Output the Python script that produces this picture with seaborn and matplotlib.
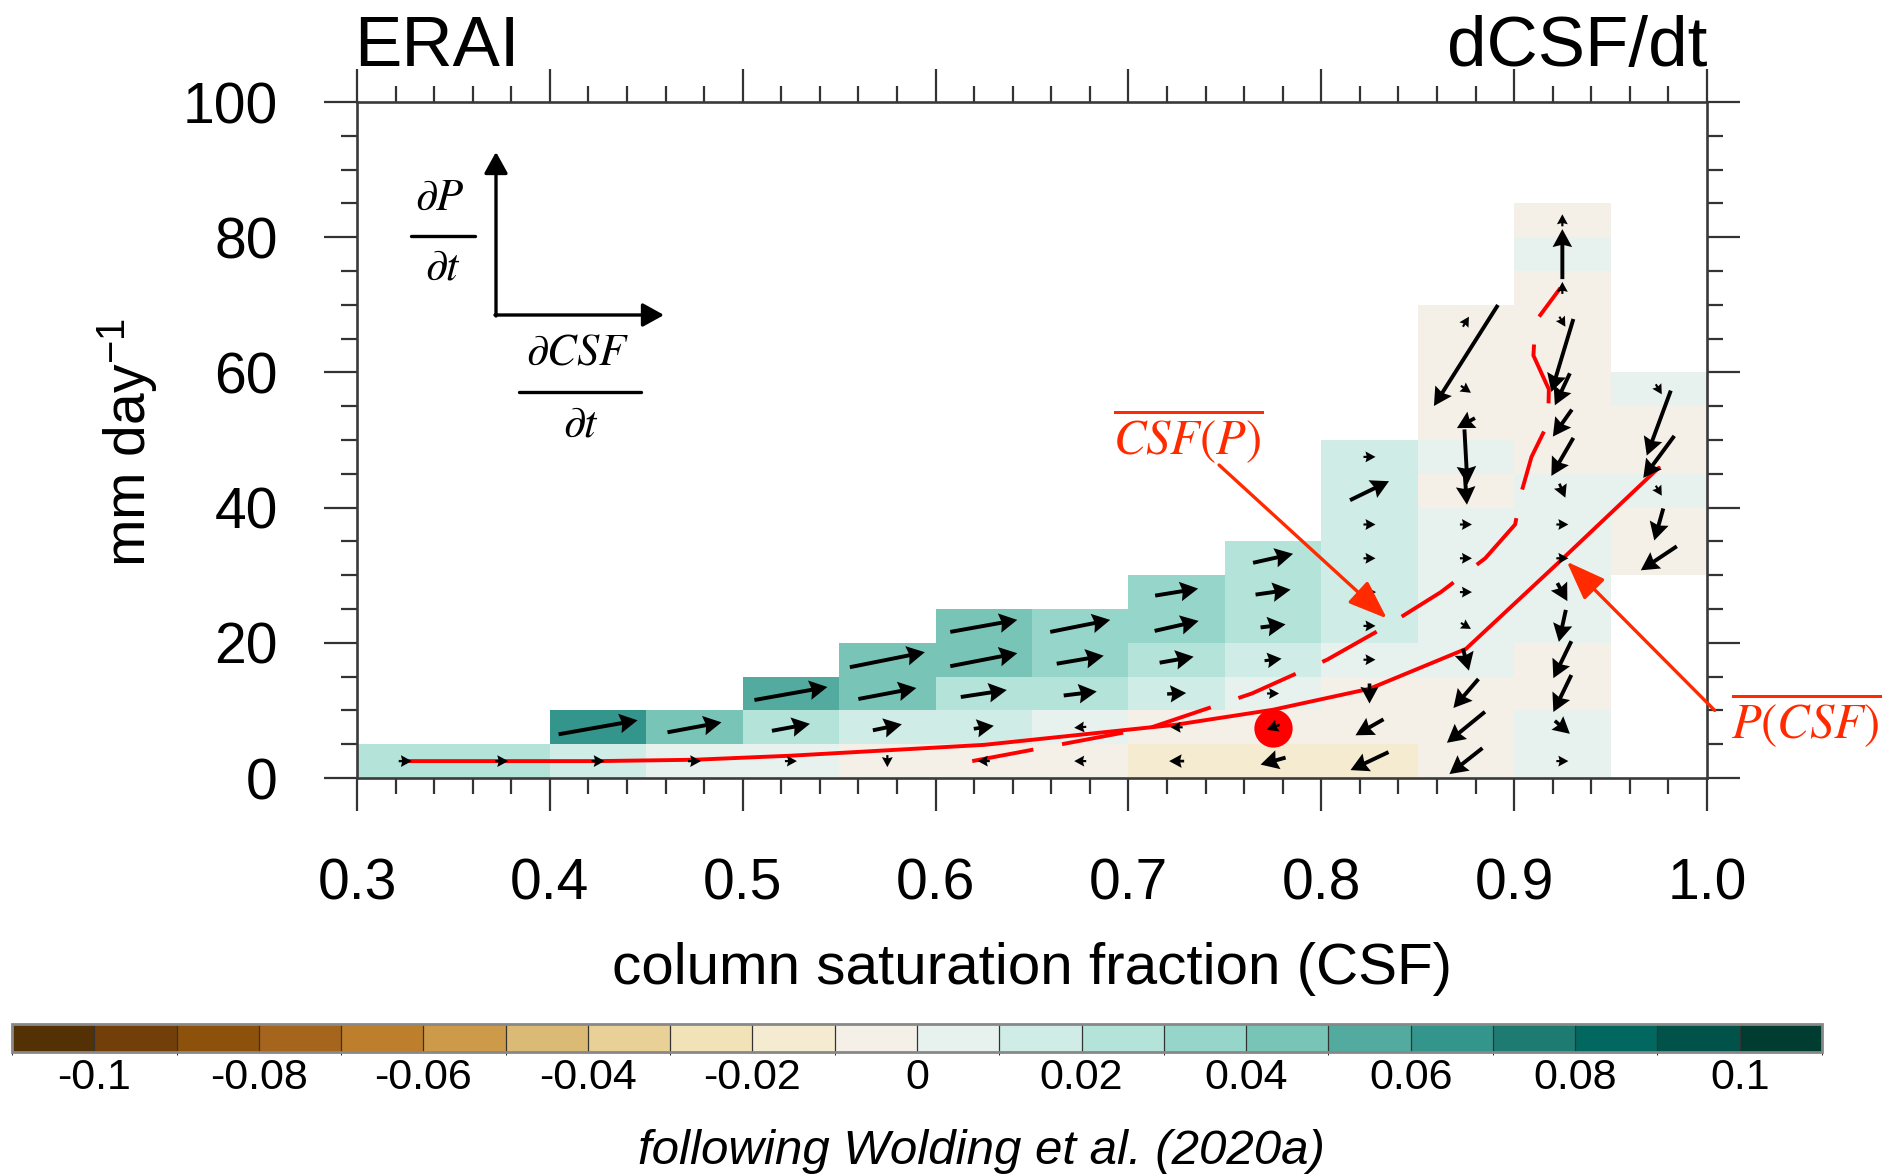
import numpy as np
import matplotlib
matplotlib.use("Agg")
import matplotlib.pyplot as plt
from matplotlib.colors import ListedColormap, BoundaryNorm
from matplotlib.lines import Line2D
import seaborn as sns

# ---------------- binned composite: CSF bins (0.05) x precipitation bins (5 mm/day)
csf_edges = np.linspace(0.30, 1.00, 15)
p_edges = np.linspace(0.0, 85.0, 18)
csf_mid = 0.5 * (csf_edges[:-1] + csf_edges[1:])
p_mid = 0.5 * (p_edges[:-1] + p_edges[1:])

# index of the lowest occupied precipitation bin in each CSF bin
first_p_bin = [0, 0, 0, 0, 0, 0, 0, 0, 0, 0, 0, 0, 0, 6]

# mean dCSF/dt of each occupied bin, one list per CSF bin, lowest P bin first
dcsf_dt = [
    [0.025],                                                        # 0.30-0.35
    [0.025],                                                        # 0.35-0.40
    [0.015, 0.065],                                                 # 0.40-0.45
    [0.005, 0.045],                                                 # 0.45-0.50
    [0.005, 0.025, 0.055],                                          # 0.50-0.55
    [-0.005, 0.015, 0.045, 0.045],                                  # 0.55-0.60
    [-0.005, 0.015, 0.025, 0.045, 0.045],                           # 0.60-0.65
    [-0.005, 0.005, 0.025, 0.035, 0.035],                           # 0.65-0.70
    [-0.015, -0.005, 0.015, 0.025, 0.035, 0.035],                   # 0.70-0.75
    [-0.015, -0.005, 0.005, 0.015, 0.025, 0.025, 0.025],            # 0.75-0.80
    [-0.015, -0.005, -0.005, 0.005, 0.015, 0.015, 0.015, 0.015,
     0.015, 0.015],                                                 # 0.80-0.85
    [-0.005, -0.005, -0.005, 0.005, 0.005, 0.005, 0.005, 0.005,
     -0.005, 0.005, -0.005, -0.005, -0.005, -0.005],                # 0.85-0.90
    [0.005, 0.005, -0.005, -0.005, 0.005, 0.005, 0.005, 0.005,
     0.005, -0.005, -0.005, -0.005, -0.005, -0.005, -0.005, 0.005,
     -0.005],                                                       # 0.90-0.95
    [-0.005, -0.005, 0.005, -0.005, -0.005, 0.005],                 # 0.95-1.00
]

# phase-space tendency vectors, same layout: CSF component
vec_dcsf = [
    [0.13],
    [0.13],
    [0.13, 0.79],
    [0.13, 0.54],
    [0.12, 0.38, 0.73],
    [0.0, 0.29, 0.58, 0.75],
    [-0.12, 0.20, 0.46, 0.67, 0.67],
    [-0.12, -0.12, 0.33, 0.47, 0.60],
    [-0.15, -0.12, 0.19, 0.34, 0.44, 0.43],
    [-0.25, -0.13, 0.12, 0.17, 0.25, 0.35, 0.40],
    [-0.38, -0.28, 0.0, 0.12, 0.12, 0.13, 0.12, 0.12, 0.39, 0.12],
    [-0.33, -0.38, -0.25, 0.06, 0.10, 0.12, 0.12, 0.12, 0.02, 0.03,
     -0.18, 0.10, -0.64, 0.06],
    [0.12, 0.15, -0.18, -0.18, -0.07, 0.10, 0.12, 0.12, 0.06, -0.22,
     -0.19, -0.15, -0.22, 0.06, 0.0, 0.0, 0.0],
    [-0.36, -0.09, 0.06, -0.31, -0.24, 0.06],
]

# phase-space tendency vectors, same layout: precipitation component
vec_dp = [
    [0.0],
    [0.0],
    [0.0, 0.14],
    [0.0, 0.10],
    [0.0, 0.07, 0.13],
    [-0.12, 0.06, 0.11, 0.15],
    [0.0, 0.03, 0.07, 0.13, 0.12],
    [0.0, -0.01, 0.04, 0.08, 0.12],
    [0.0, 0.0, 0.01, 0.06, 0.10, 0.07],
    [-0.07, -0.05, 0.0, 0.02, 0.03, 0.05, 0.09],
    [-0.18, -0.16, -0.20, 0.0, 0.0, 0.0, 0.0, 0.0, 0.19, 0.0],
    [-0.26, -0.31, -0.29, -0.22, -0.06, 0.0, 0.0, 0.0, -0.28, -0.55,
     -0.10, -0.07, -1.01, 0.10],
    [0.0, -0.13, -0.37, -0.37, -0.32, -0.18, 0.0, 0.0, -0.14, -0.38,
     -0.27, -0.32, -0.73, -0.10, 0.12, 0.50, 0.12],
    [-0.24, -0.32, -0.10, -0.42, -0.65, -0.10],
]

# conditional means
p_given_csf = [2.5, 2.5, 2.5, 2.7, 3.3, 4.1, 4.9, 6.4, 7.9, 10.1, 13.2, 19.1, 32.4, 45.9]
csf_given_p = [0.619, 0.712, 0.764, 0.803, 0.834, 0.862, 0.885, 0.9005,
               0.904, 0.909, 0.9176, 0.918, 0.910, 0.911, 0.924]
p_for_csf_given_p = p_mid[:len(csf_given_p)]

# climatological mean state
mean_csf, mean_p = 0.775, 7.4

# colour levels / ticks
level_bounds = np.linspace(-0.11, 0.11, 23)
cbar_ticks = [-0.1, -0.08, -0.06, -0.04, -0.02, 0.0, 0.02, 0.04, 0.06, 0.08, 0.1]
cbar_labels = ["-0.1", "-0.08", "-0.06", "-0.04", "-0.02", "0",
               "0.02", "0.04", "0.06", "0.08", "0.1"]
x_ticks = [0.3, 0.4, 0.5, 0.6, 0.7, 0.8, 0.9, 1.0]
x_labels = ["0.3", "0.4", "0.5", "0.6", "0.7", "0.8", "0.9", "1.0"]
y_ticks = [0, 20, 40, 60, 80, 100]

brbg = ["#543005", "#723f08", "#8c510a", "#a6651c", "#bd7f2c", "#cc9a49",
        "#dbba75", "#e8d096", "#f1e2b7", "#f5ebd0", "#f4f0e8", "#e7f2ef",
        "#d0ece6", "#b4e3da", "#96d6ca", "#78c5b8", "#53aa9e", "#34958c",
        "#1d7b72", "#02675e", "#015349", "#003c30"]

# ---------------- style
sns.set_style("ticks")
plt.rcParams["font.family"] = ["Liberation Sans", "DejaVu Sans"]
plt.rcParams["mathtext.fontset"] = "stix"
plt.rcParams["text.color"] = "black"
plt.rcParams["axes.labelcolor"] = "black"
plt.rcParams["xtick.color"] = "black"
plt.rcParams["ytick.color"] = "black"

W, H = 1900, 1175


def fx(x):
    return x / W


def fy(y):
    return 1 - y / H


fig = plt.figure(figsize=(19, 11.75), dpi=100)
ax = fig.add_axes([fx(357), fy(778), fx(1707) - fx(357), fy(102) - fy(778)])

# ---------------- shaded bins
grid = np.full((len(p_mid), len(csf_mid)), np.nan)
X, Y, U, V = [], [], [], []
for k in range(len(csf_mid)):
    for j, val in enumerate(dcsf_dt[k]):
        row = first_p_bin[k] + j
        grid[row, k] = val
        X.append(csf_mid[k])
        Y.append(p_mid[row])
        U.append(vec_dcsf[k][j])
        V.append(vec_dp[k][j])

cmap = ListedColormap(brbg)
norm = BoundaryNorm(level_bounds, cmap.N)
mesh = ax.pcolormesh(csf_edges, p_edges, np.ma.masked_invalid(grid),
                     cmap=cmap, norm=norm, shading="flat", zorder=1,
                     edgecolors="none")

# ---------------- conditional-mean curves and mean state
sns.lineplot(x=list(csf_mid), y=p_given_csf, ax=ax, color="red", lw=2.8,
             sort=False, estimator=None, zorder=3)
sns.lineplot(x=csf_given_p, y=list(p_for_csf_given_p), ax=ax, color="red",
             lw=2.8, sort=False, estimator=None, linestyle=(0, (16, 7.5)),
             zorder=3)
sns.scatterplot(x=[mean_csf], y=[mean_p], ax=ax, s=760, color="red",
                linewidth=0, zorder=4)

# ---------------- tendency vectors
ax.quiver(X, Y, U, V, angles="uv", scale_units="inches", scale=1.0,
          pivot="middle", width=0.0029, headwidth=5.0, headlength=4.6,
          headaxislength=4.1, minshaft=1.2, minlength=0.5, color="black",
          zorder=5)

# ---------------- axes
ax.set_xlim(0.3, 1.0)
ax.set_ylim(0, 100)
ax.set_xticks(x_ticks)
ax.set_xticklabels(x_labels)
ax.set_yticks(y_ticks)
ax.set_xticks(np.arange(0.30, 1.001, 0.02), minor=True)
ax.set_yticks(np.arange(0, 101, 5), minor=True)
ax.tick_params(which="both", direction="out", top=True, right=True,
               color="#333333", width=1.6, labelcolor="black")
ax.tick_params(which="major", length=24, labelsize=41, pad=33)
ax.tick_params(which="minor", length=11.5)
for s in ax.spines.values():
    s.set_linewidth(1.9)
    s.set_color("#3a3a3a")
ax.set_xlabel("")
ax.set_ylabel("")

fig.text(fx(127), fy(442), "mm day$^{\\mathregular{-1}}$", rotation=90,
         ha="center", va="center", fontsize=41)
fig.text(fx(1032), fy(984), "column saturation fraction (CSF)",
         ha="center", va="baseline", fontsize=42)
fig.text(fx(354), fy(66), "ERAI", ha="left", va="baseline", fontsize=51)
fig.text(fx(1707), fy(66), "dCSF/dt", ha="right", va="baseline", fontsize=51)

# ---------------- vector key
key_kw = dict(arrowstyle="-|>,head_length=0.65,head_width=0.36", color="black",
              lw=2.4, shrinkA=0, shrinkB=0, mutation_scale=20)
ax.annotate("", xy=(496, H - 152), xytext=(496, H - 316),
            xycoords="figure pixels", textcoords="figure pixels",
            arrowprops=key_kw, annotation_clip=False)
ax.annotate("", xy=(664, H - 315), xytext=(495, H - 315),
            xycoords="figure pixels", textcoords="figure pixels",
            arrowprops=key_kw, annotation_clip=False)
fig.text(fx(440), fy(198), r"$\partial P$", ha="center", va="center", fontsize=32)
fig.text(fx(443), fy(268), r"$\partial t$", ha="center", va="center", fontsize=32)
fig.add_artist(Line2D([fx(411), fx(475)], [fy(236), fy(236)], lw=2.4,
                      color="black", transform=fig.transFigure))
fig.text(fx(578), fy(353), r"$\partial CSF$", ha="center", va="center", fontsize=32)
fig.text(fx(581), fy(425), r"$\partial t$", ha="center", va="center", fontsize=32)
fig.add_artist(Line2D([fx(519), fx(641)], [fy(392), fy(392)], lw=2.4,
                      color="black", transform=fig.transFigure))

# ---------------- curve labels
lab_col = "#ff2a00"
lab_kw = dict(arrowstyle="-|>,head_length=1.2,head_width=0.45", color=lab_col,
              lw=2.4, shrinkA=0, shrinkB=0, mutation_scale=20)
ax.annotate("", xy=(0.834, 23.6), xytext=(0.747, 46.3), arrowprops=lab_kw,
            annotation_clip=False, zorder=6)
ax.annotate("", xy=(0.9273, 32.0), xytext=(1.004, 10.0), arrowprops=lab_kw,
            annotation_clip=False, zorder=6)
fig.text(fx(1188), fy(436), r"$\overline{CSF(P)}$", color=lab_col,
         ha="center", va="center", fontsize=35)
fig.text(fx(1806), fy(720), r"$\overline{P(CSF)}$", color=lab_col,
         ha="center", va="center", fontsize=35)

# ---------------- colour bar
cax = fig.add_axes([fx(12), fy(1052), fx(1822) - fx(12), fy(1024) - fy(1052)])
cb = fig.colorbar(mesh, cax=cax, orientation="horizontal", ticks=cbar_ticks,
                  drawedges=True)
cb.set_ticklabels(cbar_labels)
cb.ax.tick_params(length=0, pad=4, labelsize=31, labelcolor="black")
cb.outline.set_edgecolor("#888888")
cb.outline.set_linewidth(2.0)
cb.dividers.set_color("#333333")
cb.dividers.set_linewidth(0.9)

fig.text(fx(981), fy(1164), "following Wolding et al. (2020a)", ha="center",
         va="baseline", fontsize=35.5, style="italic")

fig.savefig("out.png", dpi=100)
